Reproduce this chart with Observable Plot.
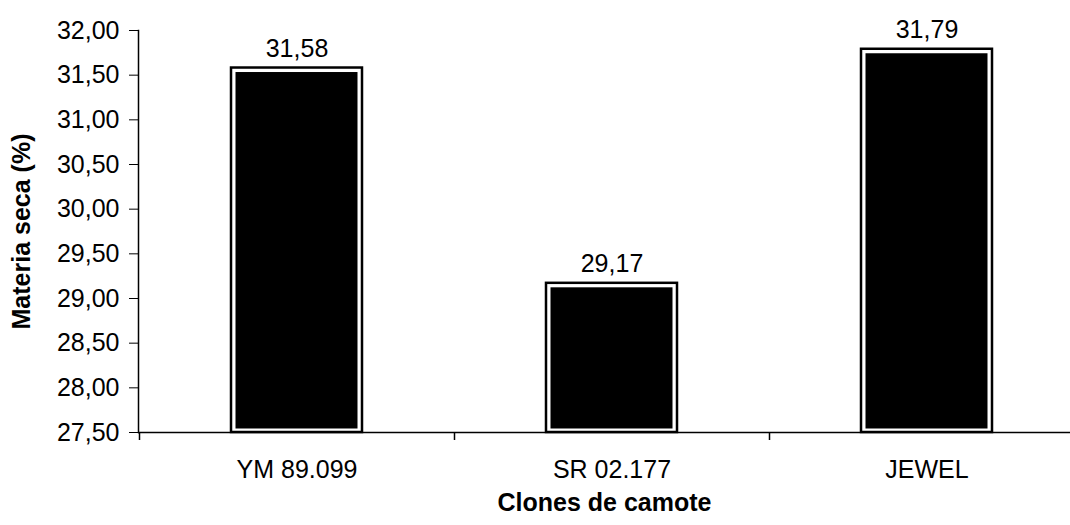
<!DOCTYPE html>
<html>
<head>
<meta charset="utf-8">
<script src="https://cdn.jsdelivr.net/npm/d3@7"></script>
<script src="https://cdn.jsdelivr.net/npm/@observablehq/plot@0.6"></script>
<style>
  html, body { margin: 0; padding: 0; background: #fff; }
  #chart svg { font-family: "Liberation Sans", Arial, sans-serif; }
  #chart g[aria-label="x-axis label"] text,
  #chart g[aria-label="y-axis label"] text { font-weight: bold; }
</style>
</head>
<body>
<div id="chart"></div>
<script>
// Dry matter content by sweet potato clone
const clones = ["YM 89.099", "SR 02.177", "JEWEL"];
const materiaSeca = [31.58, 29.17, 31.79];
const yTicks = [27.5, 28, 28.5, 29, 29.5, 30, 30.5, 31, 31.5, 32];
const yTitle = "Materia seca (%)";
const xTitle = "Clones de camote";

const rows = clones.map((clone, i) => ({ clone, valor: materiaSeca[i] }));
const fmt = v => v.toFixed(2).replace(".", ",");
const base = yTicks[0];
const xRange = [139, 1084];
const step = (xRange[1] - xRange[0]) / clones.length;
const fs = 25;

const chart = Plot.plot({
  width: 1070,
  height: 525,
  marginTop: 30,
  marginBottom: 93,
  marginLeft: 138,
  marginRight: 0,
  style: { fontSize: fs + "px", fontFamily: "'Liberation Sans', Arial, sans-serif", color: "#000", background: "#fff", overflow: "visible" },
  x: { type: "band", domain: clones, range: xRange, paddingInner: 0.585, paddingOuter: 0.2925, label: null },
  y: { domain: [yTicks[0], yTicks[yTicks.length - 1]], label: null },
  marks: [
    // outlined bar with a white gap around the black fill
    Plot.barY(rows, { x: "clone", y1: base, y2: "valor", fill: "#fff", stroke: "#000", strokeWidth: 2.5 }),
    Plot.barY(rows, { x: "clone", y1: base, y2: "valor", fill: "#000", inset: 4.5, insetBottom: 3.5 }),
    Plot.ruleY([base], { stroke: "#000", strokeWidth: 1.5 }),
    Plot.frame({ anchor: "left", stroke: "#000", strokeWidth: 1.5 }),
    // category separators below the baseline
    Plot.ruleX(clones, { x: d => d, y1: base, y2: base, dx: -step / 2, insetBottom: -8, stroke: "#000", strokeWidth: 1.5 }),
    Plot.axisY({ ticks: yTicks, tickFormat: fmt, tickSize: 9, tickPadding: 10, fontSize: fs, label: yTitle, labelArrow: "none", labelAnchor: "center", labelOffset: 126 }),
    Plot.axisX({ tickSize: 0, tickPadding: 28, fontSize: fs, label: xTitle, labelArrow: "none", labelAnchor: "center", labelOffset: 78 }),
    Plot.text(rows, { x: "clone", y: "valor", text: d => fmt(d.valor), lineAnchor: "bottom", dy: -11, fontSize: fs, fill: "#000" })
  ]
});

document.getElementById("chart").append(chart);
</script>
</body>
</html>
